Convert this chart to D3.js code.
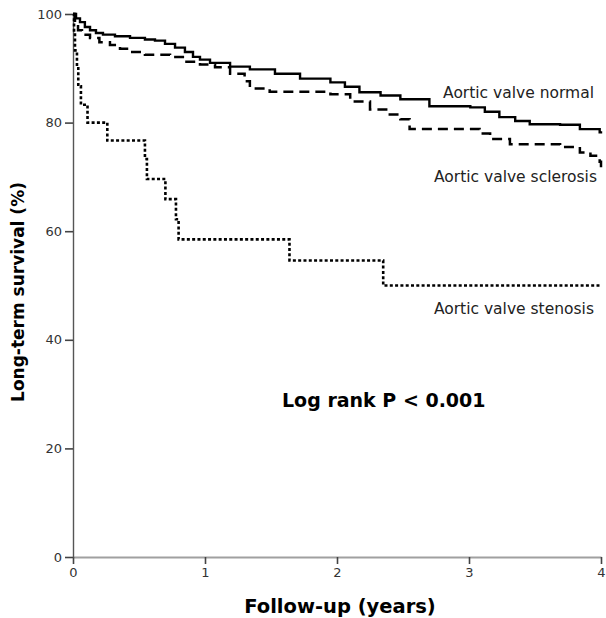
<!DOCTYPE html>
<html>
<head>
<meta charset="utf-8">
<script src="https://cdn.jsdelivr.net/npm/d3@7"></script>
<style>
  body { margin: 0; background: #fff; }
  svg { font-family: "DejaVu Sans", Verdana, sans-serif; }
</style>
</head>
<body>
<svg id="chart" width="606" height="618"></svg>
<script>
"use strict";

// follow-up (years) / survival (%)
const normalTimes = [0, 0.023, 0.053, 0.09, 0.129, 0.174, 0.227, 0.318, 0.432, 0.545, 0.621, 0.697, 0.773, 0.848, 0.909, 0.962, 1.038, 1.19, 1.34, 1.53, 1.72, 1.95, 2.06, 2.17, 2.33, 2.48, 2.7, 3.01, 3.12, 3.23, 3.35, 3.46, 3.69, 3.84, 3.99, 4];
const normalSurvival = [100, 99.2, 98.5, 97.6, 97, 96.5, 96.2, 95.9, 95.6, 95.3, 95.1, 94.5, 93.8, 93, 92.1, 91.6, 91, 90.3, 89.8, 89, 88.1, 87.4, 86.6, 85.6, 85, 84.3, 83, 82.8, 82, 81, 80.3, 79.7, 79.6, 78.8, 78.2, 78];

const sclerosisTimes = [0, 0.015, 0.038, 0.068, 0.129, 0.2, 0.28, 0.356, 0.432, 0.545, 0.735, 0.848, 0.962, 1.076, 1.19, 1.3, 1.34, 1.49, 1.95, 2.1, 2.25, 2.4, 2.48, 2.55, 2.86, 3.08, 3.16, 3.31, 3.69, 3.84, 3.92, 3.99, 4];
const sclerosisSurvival = [100, 98.5, 97, 96.2, 95.6, 94.8, 94.3, 93.6, 93, 92.5, 92.1, 91.2, 90.7, 90.2, 89, 87.6, 86.3, 85.7, 85.2, 83.9, 82.4, 81.5, 80.6, 78.8, 78.8, 78, 77, 76, 75.5, 74.5, 73.9, 72.8, 71.8];

const stenosisTimes = [0, 0.008, 0.015, 0.03, 0.04, 0.06, 0.11, 0.26, 0.545, 0.56, 0.7, 0.78, 0.8, 1.64, 2.35, 4];
const stenosisSurvival = [100, 96.7, 93.3, 90, 86.7, 83.3, 80, 76.7, 73.3, 69.6, 65.9, 62.2, 58.5, 54.6, 50, 50];

const xTicks = [0, 1, 2, 3, 4];
const yTicks = [0, 20, 40, 60, 80, 100];

const groups = [
    { name: "Aortic valve normal", times: normalTimes, values: normalSurvival, dash: null, width: 2.4, labelAt: [594, 98] },
    { name: "Aortic valve sclerosis", times: sclerosisTimes, values: sclerosisSurvival, dash: "10,6", width: 2.5, labelAt: [597, 182] },
    { name: "Aortic valve stenosis", times: stenosisTimes, values: stenosisSurvival, dash: "3,2.3", width: 2.6, labelAt: [594, 314] }
];

const svg = d3.select("#chart");
const margin = { left: 73, right: 5, top: 14, bottom: 61 };
const width = 606, height = 618;

const x = d3.scaleLinear().domain([0, 4]).range([margin.left, width - margin.right]);
const y = d3.scaleLinear().domain([0, 100]).range([height - margin.bottom, margin.top]);

// axes
const xAxis = svg.append("g")
    .attr("transform", `translate(0,${y(0)})`)
    .call(d3.axisBottom(x).tickValues(xTicks).tickSize(7).tickSizeOuter(0).tickPadding(4).tickFormat(d3.format("d")));
xAxis.select(".domain").attr("stroke", "#a0a0a0").attr("stroke-width", 2.2);

const yAxis = svg.append("g")
    .attr("transform", `translate(${x(0)},0)`)
    .call(d3.axisLeft(y).tickValues(yTicks).tickSize(8).tickSizeOuter(0).tickPadding(3).tickFormat(d3.format("d")));
yAxis.select(".domain").attr("stroke", "#555").attr("stroke-width", 1.4);

svg.selectAll(".tick line").attr("stroke", "#444").attr("stroke-width", 1.6);
svg.selectAll(".tick text")
    .attr("fill", "#333")
    .style("font-family", "DejaVu Sans, sans-serif")
    .style("font-size", "13px");

// survival curves
const line = d3.line()
    .x((d) => x(d[0]))
    .y((d) => y(d[1]))
    .curve(d3.curveStepAfter);

groups.forEach((g) => {
    const pts = g.times.map((t, i) => [t, g.values[i]]);
    svg.append("path")
        .datum(pts)
        .attr("d", line)
        .attr("fill", "none")
        .attr("stroke", "#000")
        .attr("stroke-width", g.width)
        .attr("stroke-dasharray", g.dash);
    svg.append("text")
        .attr("x", g.labelAt[0])
        .attr("y", g.labelAt[1])
        .attr("text-anchor", "end")
        .attr("fill", "#222")
        .style("font-size", "15.5px")
        .text(g.name);
});

// annotation + titles
svg.append("text")
    .attr("x", 282)
    .attr("y", 407)
    .attr("text-anchor", "start")
    .style("font-weight", "bold")
    .style("font-size", "19px")
    .text("Log rank P < 0.001");

svg.append("text")
    .attr("x", 340)
    .attr("y", 613)
    .attr("text-anchor", "middle")
    .style("font-weight", "bold")
    .style("font-size", "19.5px")
    .text("Follow-up (years)");

svg.append("text")
    .attr("transform", "translate(24,292) rotate(-90)")
    .attr("text-anchor", "middle")
    .style("font-weight", "bold")
    .style("font-size", "17px")
    .text("Long-term survival (%)");
</script>
</body>
</html>
